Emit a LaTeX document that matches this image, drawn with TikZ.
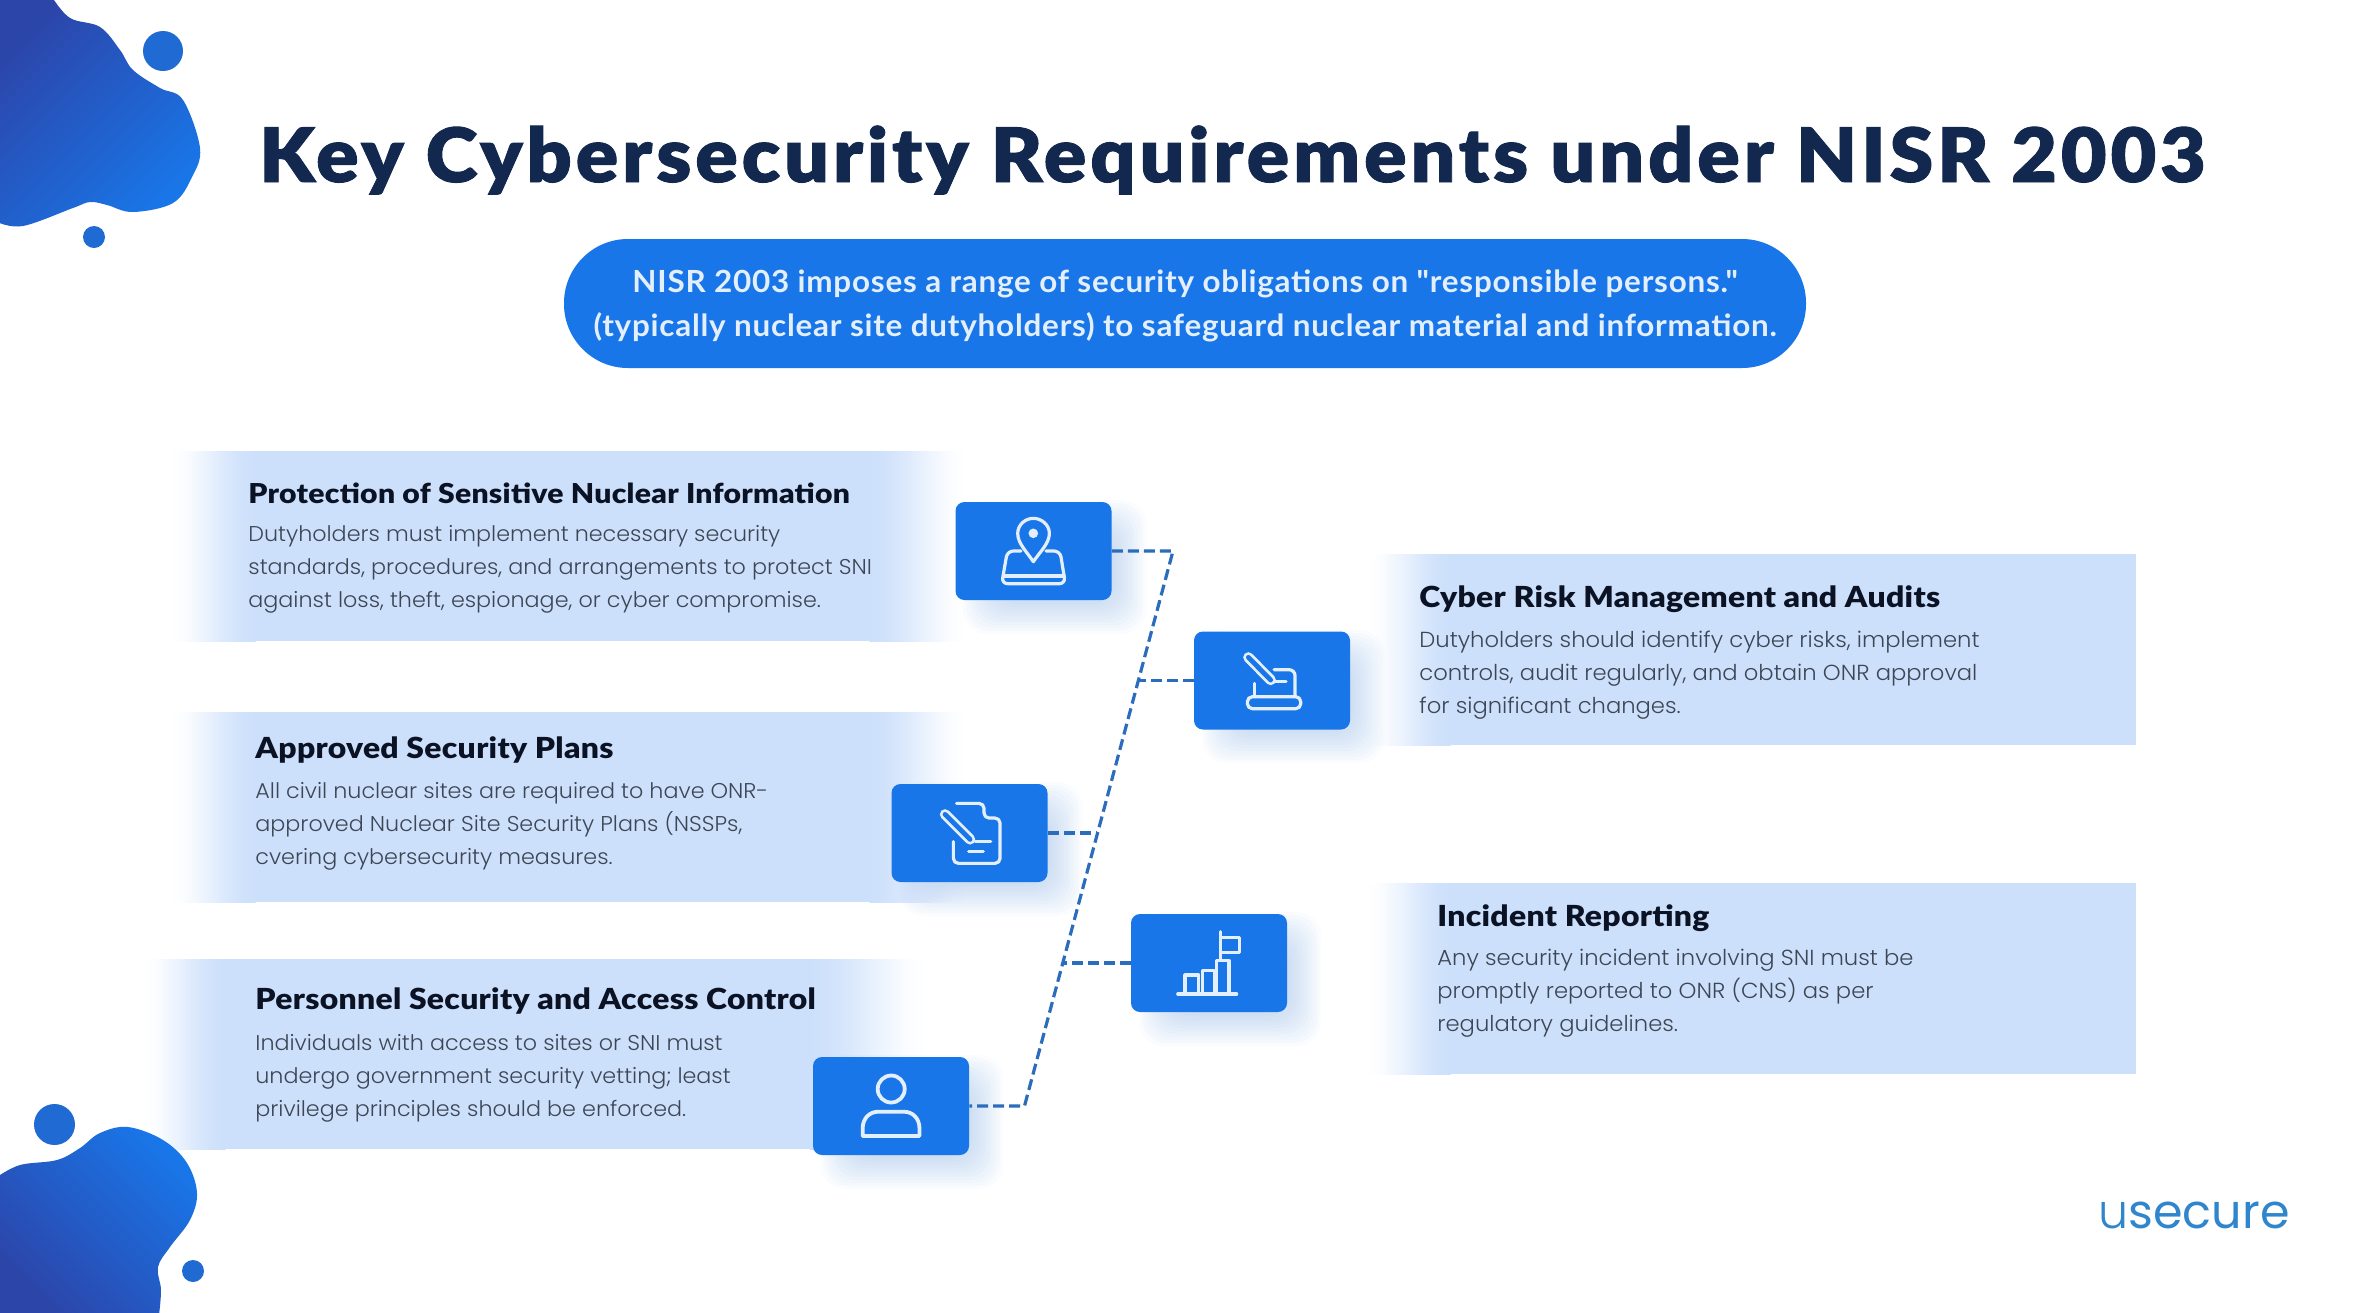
\documentclass[tikz,border=0pt]{standalone}
\usepackage{fontspec}
\setmainfont{Lato}
\newfontfamily\titlefont{Lato Black}[LetterSpace=5.3,FakeStretch=1.05,FakeBold=1.2]
\newfontfamily\headfont{Lato Black}[LetterSpace=1,FakeStretch=1.1]
\newfontfamily\pillfont{Lato Bold}[LetterSpace=2.5,FakeStretch=1.03]
\newfontfamily\bodyfont{Poppins Light}[FakeStretch=1.04]
\newfontfamily\logofont{Poppins}
\newfontfamily\logolight{Poppins Light}
\definecolor{boxblue}{HTML}{1976E8}
\definecolor{panelblue}{HTML}{CDE0FB}
\definecolor{navy}{HTML}{12284F}
\definecolor{headink}{HTML}{0B1224}
\definecolor{bodyink}{HTML}{3D4654}
\definecolor{dashblue}{HTML}{2B6CBC}
\definecolor{logoblue}{HTML}{2F86CC}
\definecolor{blobdark}{HTML}{2C45A9}
\definecolor{blobmid}{HTML}{1F6BD3}
\definecolor{iconwhite}{HTML}{E4EFFD}
\definecolor{shadowblue}{HTML}{5C9DF2}
\colorlet{fadeA}{panelblue!3!white}
\colorlet{fadeB}{panelblue!10!white}
\colorlet{fadeC}{panelblue!22!white}
\colorlet{fadeD}{panelblue!35!white}
\colorlet{fadeE}{panelblue!50!white}
\colorlet{fadeF}{panelblue!65!white}
\colorlet{fadeG}{panelblue!78!white}
\colorlet{fadeH}{panelblue!90!white}
\colorlet{fadeI}{panelblue!97!white}
% the middle 50bp of a shading spans the bounding box of the path
\pgfdeclarehorizontalshading{panelin}{100bp}{color(0bp)=(white); color(25bp)=(white); color(30bp)=(fadeA); color(35bp)=(fadeB); color(40bp)=(fadeC); color(45bp)=(fadeD); color(50bp)=(fadeE); color(55bp)=(fadeF); color(60bp)=(fadeG); color(65bp)=(fadeH); color(70bp)=(fadeI); color(75bp)=(panelblue); color(100bp)=(panelblue)}
\pgfdeclarehorizontalshading{panelout}{100bp}{color(0bp)=(panelblue); color(25bp)=(panelblue); color(30bp)=(fadeI); color(35bp)=(fadeH); color(40bp)=(fadeG); color(45bp)=(fadeF); color(50bp)=(fadeE); color(55bp)=(fadeD); color(60bp)=(fadeC); color(65bp)=(fadeB); color(70bp)=(fadeA); color(75bp)=(white); color(100bp)=(white)}
\tikzset{
  iconbox/.style={fill=boxblue,rounded corners=4.5pt,minimum width=78pt,minimum height=49pt,inner sep=0pt},
  link/.style={draw=dashblue,line width=1.6pt,dash pattern=on 5.5pt off 2.5pt},
  heading/.style={anchor=base west,inner sep=0pt,text=headink,font=\headfont\fontsize{14.5}{18}\selectfont},
  bodytext/.style={anchor=north west,inner sep=0pt,align=left,text=bodyink,font=\bodyfont\fontsize{10.7}{16.5}\selectfont},
  ico/.style={draw=iconwhite,line width=1.6pt,line cap=round,line join=round,fill=none},
  pen/.style={draw=iconwhite,line width=1.4pt,double=boxblue,double distance=2.4pt,line cap=round},
  zoomthree/.style={x=0.16667pt,y=-0.16667pt,shift={(2760,1440)}},
  zoomfour/.style={x=0.17218pt,y=-0.16667pt,shift={(2265.12,2640)}},
}
\newcommand{\panelbar}[6]{%
  \fill[panelblue] (#2,#5) rectangle (#3,#6);
  \shade[shading=panelin] (#1,#5) rectangle (#2+0.5,#6);
  \shade[shading=panelout] (#3-0.5,#5) rectangle (#4,#6);
}
\newcommand{\softshadow}[4]{% x0 y0 x1 y1 of the box
  \foreach \g in {1,...,14}{
    \fill[shadowblue,opacity=0.028,rounded corners=12pt]
      (#1+50-3*\g,#2+40-3*\g) rectangle (#3-8+3*\g,#4-8+3*\g);
  }
}
\begin{document}
\begin{tikzpicture}[x=0.5pt,y=-0.5pt]
\useasboundingbox (0,0) rectangle (2375,1312);
\fill[white] (0,0) rectangle (2375,1312);
\begin{scope}
\clip (0,0) rectangle (2375,1312);

% panels
\panelbar{168}{255}{870}{968}{451}{641}
\panelbar{168}{255}{870}{968}{712}{902}
\panelbar{140}{225}{810}{930}{959}{1149}
\fill[panelblue] (1450,554) rectangle (2136,745);
\shade[shading=panelin] (1365,554) rectangle (1450.5,745);
\fill[panelblue] (1450,883) rectangle (2136,1074);
\shade[shading=panelin] (1365,883) rectangle (1450.5,1074);

% blobs
\shade[bottom color=blobdark,top color=boxblue,shading angle=-135]
  plot[smooth,tension=0.6] coordinates {(52,-3) (70,18) (100,27) (120,50) (133,70) (160,88) (183,100) (200,148) (192,177) (173,203) (133,212) (107,205) (90,202) (73,208) (23,226) (-3,222)}
  -- (-3,-3) -- cycle;
\shade[bottom color=blobdark,top color=boxblue,shading angle=-45]
  plot[smooth,tension=0.6] coordinates {(-3,1177) (20,1165) (57,1160) (80,1148) (100,1133) (128,1127) (163,1140) (187,1163) (197,1193) (190,1220) (170,1247) (158,1267) (161,1290) (159,1315)}
  -- (-3,1315) -- cycle;
\fill[blobmid] (163,51) circle[radius=20];
\fill[blobmid] (94,237) circle[radius=11];
\fill[blobmid] (54.5,1124.5) circle[radius=20.5];
\fill[blobmid] (193,1271) circle[radius=11];
\end{scope}

% title and pill
\node[anchor=base west,inner sep=0pt,text=navy,font=\titlefont\fontsize{37.5}{44}\selectfont] (title) at (259,182) {Key Cybersecurity Requirements under NISR 2003};
\node[fill=boxblue,rounded corners=32pt,minimum width=621pt,minimum height=64.5pt,inner sep=0pt] (pill) at (1185,303.5) {};
\node[anchor=base,inner sep=0pt,text=iconwhite,font=\pillfont\fontsize{15.25}{22}\selectfont] (pill1) at (1185,292) {NISR 2003 imposes a range of security obligations on "responsible persons."};
\node[anchor=base,inner sep=0pt,text=iconwhite,font=\pillfont\fontsize{15.25}{22}\selectfont] (pill2) at (1185,336) {(typically nuclear site dutyholders) to safeguard nuclear material and information.};

% shadows
\softshadow{955}{502}{1112}{600}
\softshadow{1194}{632}{1350}{729}
\softshadow{891}{784}{1048}{882}
\softshadow{1131}{914}{1287}{1012}
\softshadow{813}{1057}{969}{1155}

% connectors
\coordinate (bend1) at (1173,551);
\coordinate (bend5) at (1024.5,1106);
\coordinate (tap2) at (1138,680.5);
\coordinate (tap3) at (1097,833);
\coordinate (tap4) at (1062,963);
\node[iconbox] (b1) at (1033.5,551) {};
\node[iconbox] (b2) at (1272,680.5) {};
\node[iconbox] (b3) at (969.5,833) {};
\node[iconbox] (b4) at (1209,963) {};
\node[iconbox] (b5) at (891,1106) {};
\draw[link] (b1.east) -- (bend1) -- (bend5) -- (b5.east);
\draw[link] (b2.west) -- (tap2);
\draw[link] (b3.east) -- (tap3);
\draw[link] (b4.west) -- (tap4);

% icons
\begin{scope}[zoomthree]
  \draw[ico] (340,245) .. controls (320,215) and (293,190) .. (293,160) .. controls (293,135) and (315,115) .. (340,115) .. controls (365,115) and (388,135) .. (388,160) .. controls (388,190) and (360,215) .. (340,245) -- cycle;
  \draw[ico,rounded corners=3pt] (303,213) -- (262,213) -- (245,311) -- (436,311) -- (420,213) -- (378,213);
  \draw[ico] (250,288) -- (432,288);
  % right-hand icon
  \draw[pen] (985,532) -- (1052,600);
  \draw[ico,rounded corners=3pt] (1062,569) -- (1125,569) -- (1125,650);
  \draw[ico] (1062,605) -- (1098,605);
  \draw[ico] (1004,610) -- (1004,650);
  \draw[ico,rounded corners=2.5pt] (982,650) -- (1142,650) -- (1142,686) -- (982,686) -- cycle;
  % plans icon
  \draw[pen] (75,1003) -- (150,1078);
  \draw[ico,rounded corners=2.5pt] (100,1085) -- (100,1150) -- (240,1150) -- (240,1014) -- (192,1014) -- (192,970) -- (110,970);
  \draw[ico] (165,1085) -- (212,1085);
  \draw[ico] (146,1115) -- (190,1115);
\end{scope}
\fill[iconwhite] (1033.3,533.3) circle[radius=4.8];
\begin{scope}[zoomfour]
  \draw[ico] (1155,342) -- (1326,342);
  \draw[ico] (1176,342) -- (1176,285) -- (1216,285) -- (1216,342);
  \draw[ico] (1226,342) -- (1226,272) -- (1262,272) -- (1262,342);
  \draw[ico] (1268,342) -- (1268,242) -- (1304,242) -- (1304,342);
  \draw[ico] (1280,155) -- (1280,238);
  \draw[ico] (1280,172) -- (1335,172) -- (1335,218) -- (1280,218);
  \draw[ico,line width=1.9pt] (240,768) -- (405,768) -- (405,745) .. controls (405,715) and (385,695) .. (360,695) -- (285,695) .. controls (260,695) and (240,715) .. (240,745) -- cycle;
\end{scope}
\draw[ico,line width=1.9pt] (891.2,1089) circle[radius=13.5];

% left texts
\node[heading,font=\headfont\fontsize{13.7}{18}\selectfont] (h1) at (248,503) {Protection of Sensitive Nuclear Information};
\node[bodytext] (t1) at (248,525) {Dutyholders must implement necessary security\\standards, procedures, and arrangements to protect SNI\\against loss, theft, espionage, or cyber compromise.};
\node[heading] (h2) at (255,758) {Approved Security Plans};
\node[bodytext] (t2) at (255,782) {All civil nuclear sites are required to have ONR-\\approved Nuclear Site Security Plans (NSSPs,\\cvering cybersecurity measures.};
\node[heading] (h3) at (255,1009) {Personnel Security and Access Control};
\node[bodytext] (t3) at (255,1034) {Individuals with access to sites or SNI must\\undergo government security vetting; least\\privilege principles should be enforced.};
% right texts
\node[heading] (h4) at (1419,607) {Cyber Risk Management and Audits};
\node[bodytext,font=\bodyfont\fontsize{10.9}{16.5}\selectfont] (t4) at (1419,631) {Dutyholders should identify cyber risks, implement\\controls, audit regularly, and obtain ONR approval\\for significant changes.};
\node[heading] (h5) at (1437,926) {Incident Reporting};
\node[bodytext,font=\bodyfont\fontsize{10.9}{16.5}\selectfont] (t5) at (1437,949) {Any security incident involving SNI must be\\promptly reported to ONR (CNS) as per\\regulatory guidelines.};
% logo
\node[anchor=base west,inner sep=0pt,text=logoblue,font=\logofont\fontsize{23.8}{28}\selectfont] (logo) at (2098,1228) {{\logolight u}secure};
\end{tikzpicture}
\end{document}
